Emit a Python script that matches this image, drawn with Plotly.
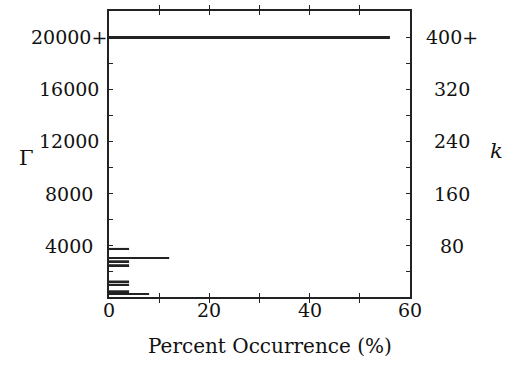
import plotly.graph_objects as go

# Data
gamma = [20000, 3750, 3050, 2800, 2500, 1250, 1000, 500, 300]
percent = [56, 4, 12, 4, 4, 4, 4, 4, 8]

gamma_ticks = [4000, 8000, 12000, 16000, 20000]
gamma_labels = ["4000", "8000", "12000", "16000", "20000+"]
k_ticks = [80, 160, 240, 320, 400]
k_labels = ["80", "160", "240", "320", "400+"]
x_ticks = [0, 10, 20, 30, 40, 50, 60]
x_label_vals = [0, 20, 40, 60]
x_labels = ["0", "20", "40", "60"]

W, H = 514, 370
L, R, T, B = 109, 104, 9, 73
pw, ph = W - L - R, H - T - B

FONT = "DejaVu Serif"
INK = "#111111"
FS = 19

fig = go.Figure()
fig.add_trace(go.Bar(
    x=percent, y=gamma, orientation="h", width=150,
    marker=dict(color="#222222", line=dict(width=0)),
    showlegend=False, hoverinfo="skip",
))
fig.add_trace(go.Scatter(x=[None], y=[None], yaxis="y2", showlegend=False))

ymin, ymax = 60, 22000
fig.update_layout(
    width=W, height=H,
    margin=dict(l=L, r=R, t=T, b=B),
    paper_bgcolor="white", plot_bgcolor="white",
    font=dict(family=FONT, size=FS, color=INK),
    xaxis=dict(
        range=[0, 60], tickvals=x_ticks, showticklabels=False,
        ticks="inside", ticklen=4, tickwidth=1, tickcolor="#222",
        showline=True, linecolor="#222", linewidth=1.5, mirror="allticks",
        showgrid=False, zeroline=False,
    ),
    yaxis=dict(
        range=[ymin, ymax], tickvals=list(range(2000, 20001, 2000)),
        showticklabels=False,
        ticks="inside", ticklen=4, tickwidth=1, tickcolor="#222",
        showline=True, linecolor="#222", linewidth=1.5, mirror="allticks",
        showgrid=False, zeroline=False,
    ),
    yaxis2=dict(
        range=[ymin / 50, ymax / 50], overlaying="y", side="right",
        showticklabels=False, ticks="", showgrid=False, zeroline=False,
        showline=False,
    ),
)

def px_to_paper(px, py):
    return (px - L) / pw, (H - B - py) / ph

def txt(**kw):
    d = dict(showarrow=False, xanchor="center", yanchor="middle",
             font=dict(family=FONT, size=FS, color=INK))
    d.update(kw)
    return d

ann = []
for v, lab in zip(gamma_ticks, gamma_labels):
    ann.append(txt(x=(69 - L) / pw, xref="paper", y=v, yref="y", text=lab))
for v, lab in zip(k_ticks, k_labels):
    ann.append(txt(x=(452 - L) / pw, xref="paper", y=v, yref="y2", text=lab))
_, ly = px_to_paper(0, 310)
for v, lab in zip(x_label_vals, x_labels):
    ann.append(txt(x=v, xref="x", y=ly, yref="paper", text=lab))

ax, ay = px_to_paper(270, 346)
ann.append(txt(x=ax, y=ay, xref="paper", yref="paper", text="Percent Occurrence (%)",
               font=dict(family=FONT, size=20, color=INK)))
gx, gy = px_to_paper(26, 157)
ann.append(txt(x=gx, y=gy, xref="paper", yref="paper", text="Γ",
               font=dict(family=FONT, size=21, color=INK)))
kx, ky = px_to_paper(496, 150)
ann.append(txt(x=kx, y=ky, xref="paper", yref="paper", text="<i>k</i>",
               font=dict(family=FONT, size=21, color=INK)))
fig.update_layout(annotations=ann)

fig.write_html("out.html")
